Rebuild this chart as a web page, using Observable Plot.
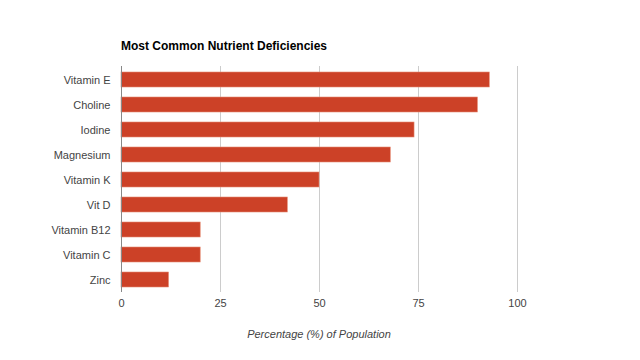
<!DOCTYPE html>
<html>
<head>
<meta charset="utf-8">
<script src="https://cdn.jsdelivr.net/npm/d3@7"></script>
<script src="https://cdn.jsdelivr.net/npm/@observablehq/plot@0.6"></script>
<style>
  html, body { margin: 0; padding: 0; background: #fff; }
  #wrap { position: relative; width: 640px; height: 360px; font-family: "Liberation Sans", Arial, sans-serif; }
  #title { position: absolute; left: 121px; top: 39px; font-size: 12px; font-weight: bold; color: #000; white-space: nowrap; }
  #xtitle { position: absolute; left: 121px; width: 396px; top: 328px; text-align: center; font-size: 11px; font-style: italic; color: #444; white-space: nowrap; }
  svg { font-family: "Liberation Sans", Arial, sans-serif; }
</style>
</head>
<body>
<div id="wrap">
  <div id="chart"></div>
  <div id="title">Most Common Nutrient Deficiencies</div>
  <div id="xtitle">Percentage (%) of Population</div>
</div>
<script>
const nutrients = ["Vitamin E", "Choline", "Iodine", "Magnesium", "Vitamin K", "Vit D", "Vitamin B12", "Vitamin C", "Zinc"];
const percents = [93, 90, 74, 68, 50, 42, 20, 20, 12];
const xTicks = [0, 25, 50, 75, 100];

const data = nutrients.map((n, i) => ({nutrient: n, value: percents[i]}));

const chart = Plot.plot({
  width: 640,
  height: 360,
  marginLeft: 121,
  marginRight: 123,
  marginTop: 66,
  marginBottom: 68,
  style: {fontSize: "11px", color: "#444", background: "#fff"},
  x: {domain: [0, 100], ticks: xTicks, label: null},
  y: {domain: nutrients, padding: 0, label: null},
  marks: [
    Plot.gridX(xTicks.slice(1), {stroke: "#cccccc", strokeOpacity: 1}),
    Plot.barX(data, {y: "nutrient", x: "value", insetTop: 5, insetBottom: 5, fill: "#cc4127", stroke: "#e58b72", strokeWidth: 0.6}),
    Plot.ruleX([0], {stroke: "#888", strokeWidth: 1}),
    Plot.axisX({ticks: xTicks, tickSize: 0, tickPadding: 7, label: null, fill: "#444"}),
    Plot.axisY({tickSize: 0, tickPadding: 11, label: null, fill: "#444"})
  ]
});
document.getElementById("chart").appendChild(chart);
</script>
</body>
</html>
